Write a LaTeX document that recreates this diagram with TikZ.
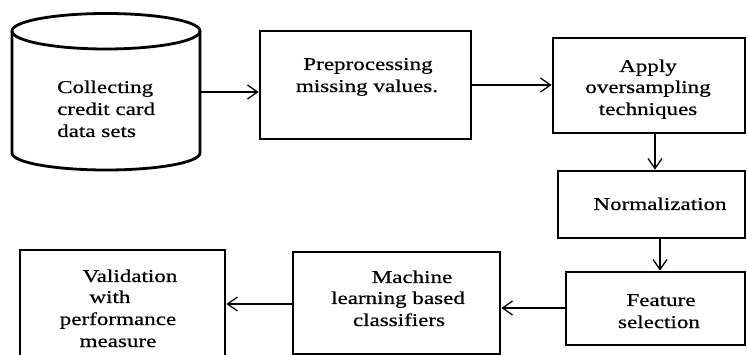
\documentclass[tikz,border=0pt]{standalone}
\usepackage{fontspec}
\setmainfont{Liberation Serif}[FakeStretch=1.28,FakeBold=0.6]
\usetikzlibrary{arrows.meta}
\tikzset{
  boxshape/.style={draw, line width=2.8pt, inner sep=0pt, rectangle},
  area/.style={inner sep=0pt, rectangle},
  line text/.style={inner sep=0pt, anchor=base, font=\fontsize{18}{21.5}\selectfont},
  flow/.style={line width=1.3pt, -{Straight Barb[length=10pt,width=14pt,line width=1.3pt]}}
}
\begin{document}
\begin{tikzpicture}[x=1pt,y=-1pt]
  \useasboundingbox (0,0) rectangle (747,355);
  \clip (0,0) rectangle (747,355);

  % database cylinder (y axis points down, so angle 90 is the lower side)
  \node[area, minimum width=188pt, minimum height=157pt] (db) at (106,91.5) {};
  \draw[line width=2.8pt]
    (12,31) -- (12,153) arc[start angle=180, end angle=0, x radius=94, y radius=17]
    -- (200,31) arc[start angle=0, end angle=-180, x radius=94, y radius=17.5] -- cycle;
  \draw[line width=2.8pt] (12,31) arc[start angle=180, end angle=0, x radius=94, y radius=18];
  \node[line text, anchor=base west] (db1) at (57,93)  {Collecting};
  \node[line text, anchor=base west] (db2) at (57,115) {credit card};
  \node[line text, anchor=base west] (db3) at (57,137) {data sets};

  % process boxes, each line of text placed on its own baseline
  \node[boxshape, minimum width=211pt, minimum height=108pt] (pre) at (365.5,85) {};
  \node[line text] (pre1) at (368,70) {Preprocessing};
  \node[line text] (pre2) at (367,92) {missing values.};

  \node[boxshape, minimum width=192pt, minimum height=95pt] (app) at (649,85.5) {};
  \node[line text] (app1) at (648,72)  {Apply};
  \node[line text] (app2) at (648,93)  {oversampling};
  \node[line text] (app3) at (648,115) {techniques};

  \node[boxshape, minimum width=187pt, minimum height=67pt] (norm) at (651.5,204.5) {};
  \node[line text] (norm1) at (660,210) {Normalization};

  \node[boxshape, minimum width=179pt, minimum height=73pt] (feat) at (655.5,308.5) {};
  \node[line text] (feat1) at (661,306) {Feature};
  \node[line text] (feat2) at (659,328) {selection};

  \node[boxshape, minimum width=207pt, minimum height=102pt] (ml) at (396.5,303) {};
  \node[line text] (ml1) at (412,283) {Machine};
  \node[line text] (ml2) at (398,304) {learning based};
  \node[line text] (ml3) at (399,326) {classifiers};

  \node[boxshape, minimum width=205pt, minimum height=130pt] (val) at (122.5,315) {};
  \node[line text] (val1) at (130,282) {Validation};
  \node[line text] (val2) at (110,303) {with};
  \node[line text] (val3) at (118,325) {performance};
  \node[line text] (val4) at (118,347) {measure};

  % connectors
  \draw[flow] (db.east |- 0,92) -- (pre.west |- 0,92);
  \draw[flow] (pre.east |- 0,85) -- (app.west |- 0,85);
  \draw[flow] (app.south -| 655,0) -- (norm.north -| 655,0);
  \draw[flow] (norm.south -| 660,0) -- (feat.north -| 660,0);
  \draw[flow] (feat.west |- 0,308) -- (ml.east |- 0,308);
  \draw[flow] (ml.west |- 0,304) -- (val.east |- 0,304);
\end{tikzpicture}
\end{document}
